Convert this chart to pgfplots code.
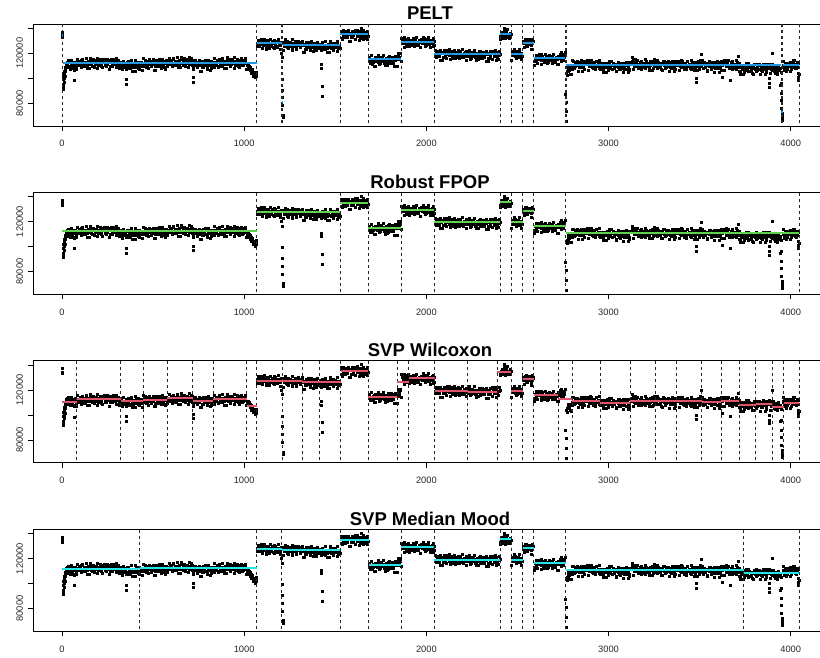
\documentclass[border=0pt]{standalone}
\usepackage{pgfplots}
\pgfplotsset{compat=1.18}
\usepackage{pgfplotstable}
\usepackage{fontspec}
\setmainfont{Liberation Sans}
\definecolor{peltc}{HTML}{2297E6}
\definecolor{fpopc}{HTML}{61D04F}
\definecolor{wilc}{HTML}{DF536B}
\definecolor{moodc}{HTML}{28E2E5}

% series (values in thousands), sampled
\pgfplotstableread[row sep=\\]{
x y\\
1 137.0\\ 2 134.5\\ 3 133.2\\ 5 91.5\\ 6 95.0\\ 7 99.0\\ 8 93.0\\ 9 102.0\\ 10 97.0\\ 11 104.5\\ 12 100.0\\ 13 106.0\\ 14 103.0\\ 15 101.5\\ 16 108.0\\ 17 106.8\\ 18 105.5\\ 19 109.0\\
21 112.2\\ 26 108.5\\ 31 111.4\\ 36 109.9\\ 41 113.8\\ 46 107.4\\ 51 111.9\\ 56 110.7\\ 61 112.9\\ 66 106.6\\ 69 98.5\\ 71 113.2\\ 76 109.3\\
81 112.6\\ 86 115.6\\ 91 110.5\\ 96 111.7\\ 101 114.0\\ 106 109.5\\ 111 115.1\\ 116 111.1\\ 121 113.1\\ 126 109.7\\ 131 116.0\\ 136 112.0\\
141 110.6\\ 146 113.5\\ 151 107.7\\ 156 114.5\\ 161 111.6\\ 166 112.8\\ 171 114.9\\ 176 109.2\\ 181 111.3\\ 186 114.2\\ 191 112.3\\ 196 116.3\\
201 110.3\\ 206 113.3\\ 211 110.9\\ 216 113.8\\ 221 108.6\\ 226 113.0\\ 231 115.4\\ 236 111.8\\ 241 109.9\\ 246 113.6\\ 251 111.5\\ 256 114.6\\
261 107.3\\ 266 112.7\\ 271 113.7\\ 276 110.0\\ 281 112.9\\ 286 111.4\\ 291 115.3\\ 296 108.9\\ 301 113.4\\ 306 112.2\\ 311 114.4\\ 316 108.1\\
321 113.0\\ 326 109.1\\ 331 110.9\\ 336 113.9\\ 341 108.8\\ 346 110.0\\ 351 112.3\\ 352 99.0\\ 354 95.0\\ 356 107.8\\ 361 113.4\\ 366 109.4\\
371 111.4\\ 376 108.0\\ 381 114.3\\ 386 110.3\\ 391 108.9\\ 396 111.8\\ 401 106.0\\ 406 112.8\\ 411 109.9\\ 416 111.1\\ 421 113.2\\ 426 107.5\\
431 109.6\\ 436 112.5\\ 441 110.6\\
446 115.8\\ 451 109.8\\ 456 112.8\\ 461 110.4\\ 466 113.3\\ 471 108.1\\ 476 112.5\\ 481 114.9\\ 486 111.3\\ 491 109.4\\ 496 113.1\\ 501 111.0\\
506 114.1\\ 511 106.8\\ 516 112.2\\ 521 113.2\\ 526 109.5\\ 531 112.4\\ 536 110.9\\ 541 114.8\\ 546 108.4\\ 551 112.9\\ 556 111.7\\ 561 113.9\\
566 107.6\\ 571 114.2\\ 576 110.3\\
581 113.4\\ 586 116.4\\ 591 111.3\\ 596 112.5\\ 601 114.8\\ 606 110.3\\ 611 115.9\\ 616 111.9\\ 621 113.9\\ 626 110.5\\ 631 116.8\\ 636 112.8\\
641 111.4\\ 646 114.3\\ 651 108.5\\ 656 115.3\\ 661 112.4\\ 666 113.6\\ 671 115.7\\ 676 110.0\\ 681 112.1\\ 686 115.0\\ 691 113.1\\ 696 117.1\\
701 111.1\\ 706 114.1\\ 711 111.7\\ 716 114.6\\ 718 100.5\\ 719 97.0\\
721 107.3\\ 726 111.7\\ 731 114.1\\ 736 110.5\\ 741 108.6\\ 746 112.3\\ 751 110.2\\ 756 113.3\\ 761 106.0\\ 766 111.4\\ 771 112.4\\ 776 108.7\\
781 111.6\\ 786 110.1\\ 791 114.0\\ 796 107.6\\ 801 112.1\\ 806 110.9\\ 811 113.1\\ 816 106.8\\ 821 113.4\\ 826 109.5\\
831 112.9\\ 836 115.9\\ 841 110.8\\ 846 112.0\\ 851 114.3\\ 856 109.8\\ 861 115.4\\ 866 111.4\\ 871 113.4\\ 876 110.0\\ 881 116.3\\ 886 112.3\\
891 110.9\\ 896 113.8\\ 901 108.0\\ 906 114.8\\ 911 111.9\\ 916 113.1\\ 921 115.2\\ 926 109.5\\ 931 111.6\\ 936 114.5\\ 941 112.6\\ 946 116.6\\
951 110.6\\ 956 113.6\\ 961 111.2\\ 966 114.1\\ 971 108.9\\ 976 113.3\\ 981 115.7\\ 986 112.1\\ 991 110.2\\ 996 113.9\\ 1001 111.8\\ 1006 114.9\\
1011 107.6\\ 1016 111.0\\ 1021 108.5\\ 1026 109.8\\ 1031 106.2\\ 1036 107.5\\ 1041 104.0\\ 1046 105.2\\ 1051 101.8\\ 1053 103.9\\ 1056 103.6\\
1058 101.0\\ 1061 100.5\\ 1063 104.5\\ 1066 102.9\\
1071 128.2\\ 1076 129.2\\ 1081 125.5\\ 1086 128.4\\ 1091 126.9\\ 1096 130.8\\ 1101 124.4\\ 1106 128.9\\ 1111 127.7\\ 1116 129.9\\ 1121 123.6\\
1126 130.2\\ 1131 126.3\\ 1136 128.1\\ 1141 131.1\\ 1146 126.0\\ 1151 127.2\\ 1156 129.5\\ 1161 125.0\\ 1166 130.6\\ 1171 126.6\\ 1176 128.6\\
1181 125.2\\ 1186 131.5\\ 1191 127.5\\ 1196 126.1\\ 1201 129.0\\
1206 120.0\\ 1207 116.5\\ 1208 99.2\\ 1209 90.6\\ 1210 84.5\\ 1211 78.1\\ 1212 70.6\\ 1213 68.5\\
1216 122.3\\ 1221 129.1\\ 1226 126.2\\ 1231 127.4\\ 1236 129.5\\ 1241 123.8\\ 1246 125.9\\ 1251 128.8\\ 1256 126.9\\ 1261 130.9\\ 1266 124.9\\
1271 127.9\\ 1276 125.5\\ 1281 128.4\\ 1286 123.2\\ 1291 127.6\\ 1296 130.0\\ 1301 126.4\\ 1306 124.5\\ 1311 128.2\\ 1316 126.1\\
1321 128.1\\ 1326 120.8\\ 1331 126.2\\ 1336 127.2\\ 1341 123.5\\ 1346 126.4\\ 1351 124.9\\ 1356 128.8\\ 1361 122.4\\ 1366 126.9\\ 1371 125.7\\
1376 127.9\\ 1381 121.6\\ 1386 128.2\\ 1391 124.3\\ 1396 126.1\\ 1401 129.1\\ 1406 124.0\\ 1411 125.2\\ 1416 127.5\\ 1421 123.0\\ 1423 111.0\\
1424 108.0\\ 1426 128.6\\ 1427 93.8\\ 1428 85.8\\ 1431 124.6\\ 1436 126.6\\ 1441 123.2\\ 1446 129.5\\ 1451 125.5\\ 1456 124.1\\ 1461 127.0\\
1466 121.2\\ 1471 128.0\\ 1476 125.1\\ 1481 126.3\\ 1486 128.4\\ 1491 122.7\\ 1496 124.8\\ 1501 127.7\\ 1506 125.8\\ 1511 129.8\\ 1516 123.8\\
1521 126.8\\ 1526 124.4\\
1531 136.5\\ 1536 131.3\\ 1541 135.7\\ 1546 138.1\\ 1551 134.5\\ 1556 132.6\\ 1561 136.3\\ 1566 134.2\\ 1571 137.3\\ 1576 130.0\\ 1581 135.4\\
1586 136.4\\ 1591 132.7\\ 1596 135.6\\ 1601 134.1\\ 1606 138.0\\ 1611 131.6\\ 1616 136.1\\ 1621 134.9\\ 1626 137.1\\ 1631 130.8\\ 1636 137.4\\
1641 133.5\\ 1643 140.3\\ 1646 135.3\\ 1651 138.3\\ 1656 133.2\\ 1661 134.4\\ 1666 136.7\\ 1671 132.2\\ 1676 137.8\\ 1681 133.8\\
1686 115.2\\ 1691 111.8\\ 1696 118.1\\ 1701 114.1\\ 1706 112.7\\ 1711 115.6\\ 1716 109.8\\ 1721 116.6\\ 1726 113.7\\ 1731 114.9\\ 1736 117.0\\
1741 111.3\\ 1746 113.4\\ 1751 116.3\\ 1756 114.4\\ 1761 118.4\\ 1766 112.4\\ 1771 115.4\\ 1776 113.0\\ 1781 115.9\\ 1786 110.7\\ 1791 115.1\\
1796 117.5\\ 1801 113.9\\ 1806 112.0\\ 1811 115.7\\ 1816 113.6\\ 1821 116.7\\ 1826 109.4\\ 1831 114.8\\ 1836 115.8\\
1841 115.0\\ 1846 117.9\\ 1851 116.4\\ 1856 120.3\\ 1861 113.9\\
1866 130.2\\ 1871 129.0\\ 1876 131.2\\ 1881 124.9\\ 1886 131.5\\ 1891 127.6\\ 1896 129.4\\ 1901 132.4\\ 1906 127.3\\ 1911 128.5\\ 1916 130.8\\
1921 126.3\\ 1926 131.9\\ 1931 127.9\\ 1936 129.9\\ 1941 126.5\\ 1946 132.8\\ 1951 128.8\\ 1956 127.4\\ 1961 130.3\\ 1966 124.5\\ 1971 131.3\\
1976 128.4\\ 1981 129.6\\ 1986 131.7\\ 1991 126.0\\ 1996 128.1\\ 2001 131.0\\ 2006 129.1\\ 2011 133.1\\ 2016 127.1\\ 2021 130.1\\ 2026 127.7\\
2031 130.6\\ 2036 125.4\\ 2041 129.8\\
2046 122.5\\ 2051 118.9\\ 2056 117.0\\ 2061 120.7\\ 2066 118.6\\ 2071 121.7\\ 2076 114.4\\ 2081 119.8\\ 2086 120.8\\ 2091 117.1\\ 2096 120.0\\
2101 118.5\\ 2106 122.4\\ 2111 116.0\\ 2116 120.5\\ 2121 119.3\\ 2126 121.5\\ 2131 115.2\\ 2136 121.8\\ 2141 117.9\\ 2146 119.7\\ 2151 122.7\\
2156 117.6\\ 2161 118.8\\ 2166 121.1\\ 2171 116.6\\ 2176 122.2\\ 2181 118.2\\ 2186 120.2\\ 2191 116.8\\ 2196 123.1\\ 2201 119.1\\ 2206 117.7\\
2211 120.6\\ 2216 114.8\\ 2221 121.6\\
2226 117.9\\ 2231 119.1\\ 2236 121.2\\ 2241 115.5\\ 2246 117.6\\ 2251 120.5\\ 2256 118.6\\ 2261 122.6\\ 2266 116.6\\ 2271 119.6\\ 2276 117.2\\
2281 120.1\\ 2286 114.9\\ 2291 119.3\\ 2296 121.7\\ 2301 118.1\\ 2306 116.2\\ 2311 119.9\\ 2316 117.8\\ 2321 120.9\\ 2326 113.6\\ 2331 119.0\\
2336 120.0\\ 2341 116.3\\ 2346 119.2\\ 2351 117.7\\ 2356 121.6\\ 2361 115.2\\ 2366 119.7\\ 2371 118.5\\ 2376 120.7\\ 2381 114.4\\ 2386 121.0\\
2391 117.1\\ 2396 118.9\\ 2401 121.9\\
2406 133.4\\ 2411 134.6\\ 2416 136.9\\ 2421 132.4\\ 2426 138.0\\ 2428 140.4\\ 2431 134.0\\ 2436 136.0\\ 2441 132.6\\ 2446 138.9\\ 2451 134.9\\
2456 133.5\\ 2461 136.4\\
2466 114.5\\ 2471 121.3\\ 2476 118.4\\ 2481 119.6\\ 2486 121.7\\ 2491 116.0\\ 2496 118.1\\ 2501 121.0\\ 2506 119.1\\ 2511 123.1\\ 2516 117.1\\
2521 120.1\\ 2526 117.7\\
2531 129.9\\ 2536 124.7\\ 2541 129.1\\ 2546 131.5\\ 2551 127.9\\ 2556 126.0\\ 2561 129.7\\ 2566 127.6\\ 2571 130.7\\ 2576 123.4\\ 2581 128.8\\
2586 129.8\\
2591 113.3\\ 2596 116.2\\ 2601 114.7\\ 2606 118.6\\ 2611 112.2\\ 2616 116.7\\ 2621 115.5\\ 2626 117.7\\ 2631 111.4\\ 2636 118.0\\ 2641 114.1\\
2646 115.9\\ 2651 118.9\\ 2656 113.8\\ 2661 115.0\\ 2666 117.3\\ 2671 112.8\\ 2676 118.4\\ 2681 114.4\\ 2686 116.4\\ 2691 113.0\\ 2696 119.3\\
2701 115.3\\ 2706 113.9\\ 2711 116.8\\ 2716 111.0\\ 2721 117.8\\
2726 116.1\\ 2731 117.3\\ 2736 119.4\\ 2741 113.7\\ 2746 115.8\\ 2751 118.7\\ 2756 116.8\\ 2761 120.8\\
2764 87.4\\ 2765 81.2\\ 2766 73.4\\ 2767 65.4\\
2771 105.3\\ 2773 102.5\\ 2776 108.3\\ 2781 105.9\\ 2786 108.8\\ 2791 103.6\\ 2796 108.0\\
2801 114.1\\ 2806 110.5\\ 2811 108.6\\ 2816 112.3\\ 2821 110.2\\ 2826 113.3\\ 2831 106.0\\ 2836 111.4\\ 2841 112.4\\ 2846 108.7\\ 2851 111.6\\
2856 110.1\\ 2861 114.0\\ 2866 107.6\\ 2871 112.1\\ 2876 110.9\\ 2881 113.1\\ 2886 106.8\\ 2891 113.4\\ 2896 109.5\\ 2901 111.3\\ 2906 114.3\\
2911 109.2\\ 2916 110.4\\ 2921 112.7\\ 2926 108.2\\ 2931 113.8\\ 2936 109.8\\ 2941 111.8\\ 2946 108.4\\ 2951 114.7\\
2956 109.3\\ 2961 107.9\\ 2966 110.8\\ 2971 105.0\\ 2976 111.8\\ 2981 108.9\\ 2986 110.1\\ 2991 112.2\\ 2996 106.5\\ 3001 108.6\\ 3006 111.5\\
3011 109.6\\ 3016 113.6\\ 3021 107.6\\ 3026 110.6\\ 3031 108.2\\ 3036 111.1\\ 3041 105.9\\ 3046 110.3\\ 3051 112.7\\ 3056 109.1\\ 3061 107.2\\
3066 110.9\\ 3071 108.8\\ 3076 111.9\\ 3081 104.6\\ 3086 110.0\\ 3091 111.0\\ 3096 107.3\\ 3101 110.2\\ 3106 108.7\\ 3111 112.6\\ 3116 106.2\\
3121 112.3\\ 3126 111.1\\ 3128 116.5\\ 3131 113.3\\ 3136 107.0\\ 3141 113.6\\ 3146 109.7\\ 3151 111.5\\ 3156 114.5\\ 3161 109.4\\ 3166 110.6\\
3171 112.9\\ 3176 108.4\\ 3181 114.0\\ 3186 110.0\\ 3191 112.0\\ 3196 108.6\\ 3201 114.9\\ 3206 110.9\\ 3211 109.5\\ 3216 112.4\\ 3221 106.6\\
3226 113.4\\ 3231 110.5\\ 3236 111.7\\ 3241 113.8\\ 3246 108.1\\ 3251 110.2\\ 3256 113.1\\
3261 110.7\\ 3266 114.7\\ 3271 108.7\\ 3276 111.7\\ 3281 109.3\\ 3286 112.2\\ 3291 107.0\\ 3296 111.4\\ 3301 113.8\\ 3306 110.2\\ 3311 108.3\\
3316 112.0\\ 3321 109.9\\ 3326 113.0\\ 3331 105.7\\ 3336 111.1\\ 3341 112.1\\ 3346 108.4\\ 3351 111.3\\ 3356 109.8\\ 3361 113.7\\ 3366 107.3\\
3371 111.8\\ 3376 110.6\\ 3381 112.8\\ 3386 106.5\\ 3391 113.1\\ 3396 109.2\\ 3401 111.0\\ 3406 114.0\\ 3411 108.9\\ 3416 110.1\\ 3421 112.4\\
3426 107.9\\ 3431 113.5\\ 3436 109.5\\ 3441 111.5\\ 3446 108.1\\ 3451 114.4\\ 3456 110.4\\ 3461 109.0\\ 3466 111.9\\ 3471 106.1\\ 3476 112.9\\
3481 110.0\\ 3482 100.0\\ 3483 96.5\\ 3486 111.2\\ 3491 113.3\\ 3496 107.6\\ 3501 109.7\\ 3506 112.6\\ 3507 119.5\\
3511 110.2\\ 3516 114.2\\ 3521 108.2\\ 3526 111.2\\ 3531 108.8\\ 3536 111.7\\ 3541 106.5\\ 3546 110.9\\ 3551 113.3\\ 3556 109.7\\ 3561 107.8\\
3566 111.5\\ 3571 109.4\\ 3576 112.5\\ 3581 105.2\\ 3586 110.6\\ 3591 111.6\\ 3596 107.9\\ 3601 110.8\\ 3606 109.3\\ 3611 113.2\\ 3616 106.8\\
3621 111.9\\ 3624 101.0\\ 3626 110.7\\ 3631 112.9\\ 3636 106.6\\ 3641 113.2\\ 3646 109.3\\ 3651 111.1\\ 3656 114.1\\ 3661 109.0\\ 3666 110.2\\
3668 98.6\\ 3671 112.5\\ 3676 108.0\\ 3681 113.6\\ 3686 109.6\\ 3691 111.6\\ 3696 108.2\\ 3701 114.5\\ 3706 110.5\\ 3711 109.1\\ 3712 117.5\\
3716 112.0\\
3721 103.2\\ 3726 110.0\\ 3731 107.1\\ 3736 108.3\\ 3741 110.4\\ 3746 104.7\\ 3751 106.8\\ 3756 109.7\\ 3761 107.8\\ 3766 111.8\\ 3771 105.8\\
3776 108.8\\ 3781 106.4\\ 3786 109.3\\ 3791 104.1\\ 3796 108.5\\ 3801 110.9\\ 3806 107.3\\
3811 105.9\\ 3816 109.6\\ 3821 107.5\\ 3826 110.6\\ 3831 103.3\\ 3836 108.7\\ 3841 109.7\\ 3846 106.0\\ 3851 108.9\\ 3856 107.4\\ 3861 111.3\\
3866 104.9\\ 3871 109.4\\ 3876 108.2\\ 3879 100.0\\ 3881 110.4\\ 3882 96.0\\ 3884 93.0\\ 3886 104.1\\ 3891 110.7\\ 3896 106.8\\ 3900 120.0\\
3901 107.6\\ 3906 110.6\\ 3911 105.5\\ 3916 106.7\\ 3921 109.0\\ 3926 104.5\\ 3931 110.1\\ 3936 106.1\\ 3941 108.1\\ 3946 104.7\\
3947 96.0\\ 3948 88.0\\ 3949 82.5\\ 3950 76.0\\ 3951 72.0\\ 3952 69.0\\ 3953 67.0\\ 3954 66.5\\ 3955 70.5\\
3956 113.9\\ 3961 109.9\\ 3966 108.5\\ 3971 111.4\\ 3976 105.6\\ 3981 112.4\\ 3986 109.5\\ 3991 110.7\\ 3996 112.8\\ 4001 107.1\\ 4006 109.2\\
4011 112.1\\ 4016 110.2\\ 4021 114.2\\ 4026 108.2\\ 4031 111.2\\ 4036 108.8\\ 4039 104.0\\ 4041 111.7\\ 4042 101.0\\ 4043 98.6\\ 4045 103.0\\
23 110.7\\ 28 113.2\\ 33 114.1\\ 38 112.5\\ 43 109.6\\ 48 114.5\\ 53 112.0\\ 58 110.1\\ 63 107.7\\ 68 110.8\\ 73 111.8\\ 78 107.1\\
83 111.8\\ 88 111.5\\ 93 112.7\\ 98 112.9\\ 103 108.9\\ 108 114.4\\ 113 110.8\\ 118 110.5\\ 123 109.5\\ 128 113.1\\ 133 112.0\\ 138 107.7\\
143 112.8\\ 148 111.3\\ 153 116.3\\ 158 110.9\\ 163 113.0\\ 168 109.9\\ 173 114.6\\ 178 113.7\\ 183 111.4\\ 188 113.4\\ 193 108.1\\ 198 112.6\\
203 111.7\\ 208 115.1\\ 213 109.7\\ 218 110.6\\ 223 114.5\\ 228 114.9\\ 233 114.2\\ 238 110.3\\ 243 113.8\\ 248 115.4\\ 253 113.6\\ 258 107.3\\
263 110.0\\ 268 115.3\\ 273 112.2\\ 278 114.7\\ 283 115.6\\ 288 114.0\\ 293 111.1\\ 298 116.0\\ 303 113.5\\ 308 111.6\\ 313 109.2\\ 318 112.3\\
323 111.6\\ 328 106.9\\ 333 110.1\\ 338 109.8\\ 343 111.0\\ 348 111.2\\ 353 107.2\\ 358 112.7\\ 363 109.1\\ 368 108.8\\ 373 107.8\\ 378 111.4\\
383 110.3\\ 388 106.0\\ 393 111.1\\ 398 109.6\\ 403 114.6\\ 408 109.2\\ 413 111.3\\ 418 108.2\\ 423 112.9\\ 428 112.0\\ 433 109.7\\ 438 111.7\\ 443 106.4\\
448 112.1\\ 453 111.2\\ 458 114.6\\ 463 109.2\\ 468 110.1\\ 473 114.0\\ 478 114.4\\ 483 113.7\\ 488 109.8\\ 493 113.3\\ 498 114.9\\ 503 113.1\\
508 106.8\\ 513 109.5\\ 518 114.8\\ 523 111.7\\ 528 114.2\\ 533 115.1\\ 538 113.5\\ 543 110.6\\ 548 115.5\\ 553 113.0\\ 558 111.1\\ 563 108.7\\ 568 111.8\\ 573 112.8\\
578 109.4\\ 583 112.6\\ 588 112.3\\ 593 113.5\\ 598 113.7\\ 603 109.7\\ 608 115.2\\ 613 111.6\\ 618 111.3\\ 623 110.3\\ 628 113.9\\ 633 112.8\\
638 108.5\\ 643 113.6\\ 648 112.1\\ 653 117.1\\ 658 111.7\\ 663 113.8\\ 668 110.7\\ 673 115.4\\ 678 114.5\\ 683 112.2\\ 688 114.2\\ 693 108.9\\
698 113.4\\ 703 112.5\\ 708 115.9\\ 713 110.5\\
723 109.3\\ 728 113.2\\ 733 113.6\\ 738 112.9\\ 743 109.0\\ 748 112.5\\ 753 114.1\\ 758 112.3\\ 763 106.0\\ 768 108.7\\ 773 114.0\\ 778 110.9\\
783 113.4\\ 788 114.3\\ 793 112.7\\ 798 109.8\\ 803 114.7\\ 808 112.2\\ 813 110.3\\ 818 107.9\\ 823 111.0\\ 828 112.0\\
833 108.9\\ 838 112.1\\ 843 111.8\\ 848 113.0\\ 853 113.2\\ 858 109.2\\ 863 114.7\\ 868 111.1\\ 873 110.8\\ 878 109.8\\ 883 113.4\\ 888 112.3\\
893 108.0\\ 898 113.1\\ 903 111.6\\ 908 116.6\\ 913 111.2\\ 918 113.3\\ 923 110.2\\ 928 114.9\\ 933 114.0\\ 938 111.7\\ 943 113.7\\ 948 108.4\\
953 112.9\\ 958 112.0\\ 963 115.4\\ 968 110.0\\ 973 110.9\\ 978 114.8\\ 983 115.2\\ 988 114.5\\ 993 110.6\\ 998 114.1\\ 1003 115.7\\ 1008 113.9\\ 1013 107.6\\
1018 110.2\\ 1023 110.9\\ 1028 107.4\\ 1033 108.8\\ 1038 105.6\\ 1043 106.9\\ 1048 103.4\\ 1049 104.6\\ 1054 102.2\\ 1059 103.1\\ 1064 101.7\\ 1068 104.8\\
1073 125.5\\ 1078 130.8\\ 1083 127.7\\ 1088 130.2\\ 1093 131.1\\ 1098 129.5\\ 1103 126.6\\ 1108 131.5\\ 1113 129.0\\ 1118 127.1\\ 1123 124.7\\
1128 127.8\\ 1133 128.8\\ 1138 124.1\\ 1143 127.3\\ 1148 127.0\\ 1153 128.2\\ 1158 128.4\\ 1163 124.4\\ 1168 129.9\\ 1173 126.3\\ 1178 126.0\\
1183 125.0\\ 1188 128.6\\ 1193 127.5\\ 1198 123.2\\ 1203 128.3\\
1218 125.9\\ 1223 130.9\\ 1228 125.5\\ 1233 127.6\\ 1238 124.5\\ 1243 129.2\\ 1248 128.3\\ 1253 126.0\\ 1258 128.0\\ 1263 122.7\\ 1268 127.2\\
1273 126.3\\ 1278 129.7\\ 1283 124.3\\ 1288 125.2\\ 1293 129.1\\ 1298 129.5\\ 1303 128.8\\ 1308 124.9\\ 1313 128.4\\ 1318 130.0\\
1323 127.1\\ 1328 120.8\\ 1333 123.5\\ 1338 128.8\\ 1343 125.7\\ 1348 128.2\\ 1353 129.1\\ 1358 127.5\\ 1363 124.6\\ 1368 129.5\\ 1373 127.0\\
1378 125.1\\ 1383 122.7\\ 1388 125.8\\ 1393 126.8\\ 1398 122.1\\ 1403 125.3\\ 1408 125.0\\ 1413 126.2\\ 1418 126.4\\ 1422 122.4\\ 1429 127.9\\
1433 124.3\\ 1438 124.0\\ 1443 123.0\\ 1448 126.6\\ 1453 125.5\\ 1458 121.2\\ 1463 126.3\\ 1468 124.8\\ 1473 129.8\\ 1478 124.4\\ 1483 126.5\\
1488 123.4\\ 1493 128.1\\ 1498 127.2\\ 1503 124.9\\ 1508 126.9\\ 1513 121.6\\ 1518 126.1\\ 1523 125.2\\
1533 137.8\\ 1538 132.4\\ 1543 133.3\\ 1548 137.2\\ 1553 137.6\\ 1558 136.9\\ 1563 133.0\\ 1568 136.5\\ 1573 138.1\\ 1578 136.3\\ 1583 130.0\\
1588 132.7\\ 1593 138.0\\ 1598 134.9\\ 1603 137.4\\ 1608 138.3\\ 1613 136.7\\ 1618 133.8\\ 1623 138.7\\ 1628 136.2\\ 1633 134.3\\ 1638 131.9\\
1644 135.0\\ 1648 136.0\\ 1653 131.3\\ 1658 134.5\\ 1663 134.2\\ 1668 135.4\\ 1673 135.6\\ 1678 131.6\\
1688 116.5\\ 1693 112.9\\ 1698 112.6\\ 1703 111.6\\ 1708 115.2\\ 1713 114.1\\ 1718 109.8\\ 1723 114.9\\ 1728 113.4\\ 1733 118.4\\ 1738 113.0\\
1743 115.1\\ 1748 112.0\\ 1753 116.7\\ 1758 115.8\\ 1763 113.5\\ 1768 115.5\\ 1773 110.2\\ 1778 114.7\\ 1783 113.8\\ 1788 117.2\\ 1793 111.8\\
1798 112.7\\ 1803 116.6\\ 1808 117.0\\ 1813 116.3\\ 1818 112.4\\ 1823 115.9\\ 1828 117.5\\ 1833 115.7\\ 1838 109.4\\
1843 115.0\\ 1848 120.3\\ 1853 117.2\\ 1858 119.7\\
1863 132.4\\ 1868 130.8\\ 1873 127.9\\ 1878 132.8\\ 1883 130.3\\ 1888 128.4\\ 1893 126.0\\ 1898 129.1\\ 1903 130.1\\ 1908 125.4\\ 1913 128.6\\
1918 128.3\\ 1923 129.5\\ 1928 129.7\\ 1933 125.7\\ 1938 131.2\\ 1943 127.6\\ 1948 127.3\\ 1953 126.3\\ 1958 129.9\\ 1963 128.8\\ 1968 124.5\\
1973 129.6\\ 1978 128.1\\ 1983 133.1\\ 1988 127.7\\ 1993 129.8\\ 1998 126.7\\ 2003 131.4\\ 2008 130.5\\ 2013 128.2\\ 2018 130.2\\ 2023 124.9\\
2028 129.4\\ 2033 128.5\\ 2038 131.9\\ 2043 126.5\\
2048 117.7\\ 2053 121.6\\ 2058 122.0\\ 2063 121.3\\ 2068 117.4\\ 2073 120.9\\ 2078 122.5\\ 2083 120.7\\ 2088 114.4\\ 2093 117.1\\ 2098 122.4\\
2103 119.3\\ 2108 121.8\\ 2113 122.7\\ 2118 121.1\\ 2123 118.2\\ 2128 123.1\\ 2133 120.6\\ 2138 118.7\\ 2143 116.3\\ 2148 119.4\\ 2153 120.4\\
2158 115.7\\ 2163 118.9\\ 2168 118.6\\ 2173 119.8\\ 2178 120.0\\ 2183 116.0\\ 2188 121.5\\ 2193 117.9\\ 2198 117.6\\ 2203 116.6\\ 2208 120.2\\
2213 119.1\\ 2218 114.8\\ 2223 119.9\\
2228 117.6\\ 2233 122.6\\ 2238 117.2\\ 2243 119.3\\ 2248 116.2\\ 2253 120.9\\ 2258 120.0\\ 2263 117.7\\ 2268 119.7\\ 2273 114.4\\ 2278 118.9\\
2283 118.0\\ 2288 121.4\\ 2293 116.0\\ 2298 116.9\\ 2303 120.8\\ 2308 121.2\\ 2313 120.5\\ 2318 116.6\\ 2323 120.1\\ 2328 121.7\\ 2333 119.9\\
2338 113.6\\ 2343 116.3\\ 2348 121.6\\ 2353 118.5\\ 2358 121.0\\ 2363 121.9\\ 2368 120.3\\ 2373 117.4\\ 2378 122.3\\ 2383 119.8\\ 2388 117.9\\
2393 115.5\\ 2398 118.6\\ 2403 119.6\\
2408 131.5\\ 2413 134.7\\ 2418 134.4\\ 2423 135.6\\ 2429 135.8\\ 2433 131.8\\ 2438 137.3\\ 2443 133.7\\ 2448 133.4\\ 2453 132.4\\ 2458 136.0\\ 2463 134.9\\
2468 114.5\\ 2473 119.6\\ 2478 118.1\\ 2483 123.1\\ 2488 117.7\\ 2493 119.8\\ 2498 116.7\\ 2503 121.4\\ 2508 120.5\\ 2513 118.2\\ 2518 120.2\\ 2523 114.9\\
2533 128.7\\ 2538 127.8\\ 2543 131.2\\ 2548 125.8\\ 2553 126.7\\ 2558 130.6\\ 2563 131.0\\ 2568 130.3\\ 2573 126.4\\ 2578 129.9\\ 2583 131.5\\ 2588 129.7\\
2593 110.6\\ 2598 113.3\\ 2603 118.6\\ 2608 115.5\\ 2613 118.0\\ 2618 118.9\\ 2623 117.3\\ 2628 114.4\\ 2633 119.3\\ 2638 116.8\\ 2643 114.9\\
2648 112.5\\ 2653 115.6\\ 2658 116.6\\ 2663 111.9\\ 2668 115.1\\ 2673 114.8\\ 2678 116.0\\ 2683 116.2\\ 2688 112.2\\ 2693 117.7\\ 2698 114.1\\
2703 113.8\\ 2708 112.8\\ 2713 116.4\\ 2718 115.3\\ 2723 111.0\\
2728 117.3\\ 2733 115.8\\ 2738 120.8\\ 2743 115.4\\ 2748 117.5\\ 2753 114.4\\ 2758 119.1\\
2769 104.0\\ 2778 108.7\\ 2783 106.4\\ 2788 108.4\\ 2793 103.1\\ 2798 107.6\\
2803 110.4\\ 2808 113.8\\ 2813 108.4\\ 2818 109.3\\ 2823 113.2\\ 2828 113.6\\ 2833 112.9\\ 2838 109.0\\ 2843 112.5\\ 2848 114.1\\ 2853 112.3\\
2858 106.0\\ 2863 108.7\\ 2868 114.0\\ 2873 110.9\\ 2878 113.4\\ 2883 114.3\\ 2888 112.7\\ 2893 109.8\\ 2898 114.7\\ 2903 112.2\\ 2908 110.3\\
2913 107.9\\ 2918 111.0\\ 2923 112.0\\ 2928 107.3\\ 2933 110.5\\ 2938 110.2\\ 2943 111.4\\ 2948 111.6\\ 2953 107.6\\
2958 111.7\\ 2963 108.1\\ 2968 107.8\\ 2973 106.8\\ 2978 110.4\\ 2983 109.3\\ 2988 105.0\\ 2993 110.1\\ 2998 108.6\\ 3003 113.6\\ 3008 108.2\\
3013 110.3\\ 3018 107.2\\ 3023 111.9\\ 3028 111.0\\ 3033 108.7\\ 3038 110.7\\ 3043 105.4\\ 3048 109.9\\ 3053 109.0\\ 3058 112.4\\ 3063 107.0\\
3068 107.9\\ 3073 111.8\\ 3078 112.2\\ 3083 111.5\\ 3088 107.6\\ 3093 111.1\\ 3098 112.7\\ 3103 110.9\\ 3108 104.6\\ 3113 107.3\\ 3118 112.6\\
3123 111.1\\ 3129 113.6\\ 3133 114.5\\ 3138 112.9\\ 3143 110.0\\ 3148 114.9\\ 3153 112.4\\ 3158 110.5\\ 3163 108.1\\ 3168 111.2\\ 3173 112.2\\
3178 107.5\\ 3183 110.7\\ 3188 110.4\\ 3193 111.6\\ 3198 111.8\\ 3203 107.8\\ 3208 113.3\\ 3213 109.7\\ 3218 109.4\\ 3223 108.4\\ 3228 112.0\\
3233 110.9\\ 3238 106.6\\ 3243 111.7\\ 3248 110.2\\ 3253 115.2\\
3258 109.3\\ 3263 111.4\\ 3268 108.3\\ 3273 113.0\\ 3278 112.1\\ 3283 109.8\\ 3288 111.8\\ 3293 106.5\\ 3298 111.0\\ 3303 110.1\\ 3308 113.5\\
3313 108.1\\ 3318 109.0\\ 3323 112.9\\ 3328 113.3\\ 3333 112.6\\ 3338 108.7\\ 3343 112.2\\ 3348 113.8\\ 3353 112.0\\ 3358 105.7\\ 3363 108.4\\
3368 113.7\\ 3373 110.6\\ 3378 113.1\\ 3383 114.0\\ 3388 112.4\\ 3393 109.5\\ 3398 114.4\\ 3403 111.9\\ 3408 110.0\\ 3413 107.6\\ 3418 110.7\\
3423 111.7\\ 3428 107.0\\ 3433 110.2\\ 3438 109.9\\ 3443 111.1\\ 3448 111.3\\ 3453 107.3\\ 3458 112.8\\ 3463 109.2\\ 3468 108.9\\ 3473 107.9\\
3478 111.5\\ 3484 110.4\\ 3488 106.1\\ 3493 111.2\\ 3498 109.7\\ 3503 114.7\\ 3508 109.3\\
3513 110.9\\ 3518 107.8\\ 3523 112.5\\ 3528 111.6\\ 3533 109.3\\ 3538 111.3\\ 3543 106.0\\ 3548 110.5\\ 3553 109.6\\ 3558 113.0\\ 3563 107.6\\
3568 108.5\\ 3573 112.4\\ 3578 112.8\\ 3583 112.1\\ 3588 108.2\\ 3593 111.7\\ 3598 113.3\\ 3603 111.5\\ 3608 105.2\\ 3613 107.9\\
3618 113.8\\ 3623 110.7\\ 3628 113.2\\ 3633 114.1\\ 3638 112.5\\ 3643 109.6\\ 3648 114.5\\ 3653 112.0\\ 3658 110.1\\ 3663 107.7\\ 3669 110.8\\
3673 111.8\\ 3678 107.1\\ 3683 110.3\\ 3688 110.0\\ 3693 111.2\\ 3698 111.4\\ 3703 107.4\\ 3708 112.9\\ 3713 109.3\\
3718 106.0\\ 3723 105.0\\ 3728 108.6\\ 3733 107.5\\ 3738 103.2\\ 3743 108.3\\ 3748 106.8\\ 3753 111.8\\ 3758 106.4\\ 3763 108.5\\ 3768 105.4\\
3773 110.1\\ 3778 109.2\\ 3783 106.9\\ 3788 108.9\\ 3793 103.6\\ 3798 108.1\\ 3803 107.2\\
3808 111.1\\ 3813 105.7\\ 3818 106.6\\ 3823 110.5\\ 3828 110.9\\ 3833 110.2\\ 3838 106.3\\ 3843 109.8\\ 3848 111.4\\ 3853 109.6\\ 3858 103.3\\
3863 106.0\\ 3868 111.3\\ 3873 108.2\\ 3878 110.7\\ 3883 111.6\\ 3888 110.0\\ 3893 107.1\\
3898 111.0\\ 3903 108.5\\ 3908 106.6\\ 3913 104.2\\ 3918 107.3\\ 3923 108.3\\ 3928 103.6\\ 3933 106.8\\ 3938 106.5\\ 3943 107.7\\ 3944 94.6\\
3958 110.8\\ 3963 106.8\\ 3968 112.3\\ 3973 108.7\\ 3978 108.4\\ 3983 107.4\\ 3988 111.0\\ 3993 109.9\\ 3998 105.6\\ 4003 110.7\\ 4008 109.2\\
4013 114.2\\ 4018 108.8\\ 4023 110.9\\ 4028 107.8\\ 4033 112.5\\ 4038 111.6\\
}\pts

\pgfplotsset{
  panel/.style={
    scale only axis, width=794pt, height=102pt, anchor=north west,
    xmin=-159, xmax=4199, ymin=61.8, ymax=143.4,
    axis line style={line width=0.8pt, black},
    xtick={0,1000,2000,3000,4000}, xticklabels={0,1000,2000,3000,4000},
    ytick={80,100,120,140}, yticklabels={80000,,120000,},
    xtick pos=left, ytick pos=left,
    tick align=outside, major tick length=5pt,
    every tick/.style={black, line width=0.7pt},
    ticklabel style={font=\fontsize{9.3}{10}\selectfont, text=black!85},
    xticklabel style={anchor=base, yshift=-15.7pt},
    yticklabel style={rotate=90, anchor=base, yshift=5pt},
    title style={font=\fontsize{18.5}{20}\selectfont\bfseries, at={(0.5,1)}, anchor=base, yshift=-2pt},
    unbounded coords=jump, clip mode=individual,
  },
  pts/.style={only marks, mark=square*, mark size=1.0pt, mark options={draw=none, fill=black}},
  vl/.style={black!85, line width=0.85pt, dash pattern=on 3pt off 3pt, forget plot},
  seg/.style={line width=2pt, no marks},
}

\begin{document}
\begin{tikzpicture}
\useasboundingbox (0pt,0pt) rectangle (820pt,657pt);

\begin{axis}[panel, at={(33pt,633pt)}, title={PELT}]
\addplot[pts] table[x=x,y=y] {\pts};
\pgfplotsinvokeforeach{5,1070,1207,1212,1528,1682,1862,2044,2404,2465,2528,2589,2763,2768,3947,3955,4045}{\addplot[vl] coordinates {(#1,40)(#1,160)};}
\addplot[seg, peltc] coordinates {(1,134.8)(5,134.8)(5,nan)(5,112.5)(1070,112.5)(1070,nan)(1070,128)(1207,128)(1207,nan)(1207,81)(1212,81)(1212,nan)
(1212,126.9)(1528,126.9)(1528,nan)(1528,135.2)(1682,135.2)(1682,nan)(1682,115.2)(1862,115.2)(1862,nan)(1862,129.3)(2044,129.3)(2044,nan)
(2044,119.4)(2404,119.4)(2404,nan)(2404,135.4)(2465,135.4)(2465,nan)(2465,119.4)(2528,119.4)(2528,nan)(2528,128.4)(2589,128.4)(2589,nan)
(2589,116)(2763,116)(2763,nan)(2763,81)(2768,81)(2768,nan)(2768,110.6)(3947,110.6)(3947,nan)(3947,73)(3955,73)(3955,nan)(3955,110.4)(4045,110.4)};
\end{axis}

\begin{axis}[panel, at={(33pt,464.7pt)}, title={Robust FPOP}]
\addplot[pts] table[x=x,y=y] {\pts};
\pgfplotsinvokeforeach{1070,1528,1682,1862,2044,2404,2465,2528,2589,2764,4045}{\addplot[vl] coordinates {(#1,40)(#1,160)};}
\addplot[seg, fpopc] coordinates {(1,112.8)(1070,112.8)(1070,nan)(1070,127.5)(1528,127.5)(1528,nan)(1528,135.2)(1682,135.2)(1682,nan)
(1682,115)(1862,115)(1862,nan)(1862,129.4)(2044,129.4)(2044,nan)(2044,119.8)(2404,119.8)(2404,nan)(2404,135.5)(2465,135.5)(2465,nan)
(2465,119.8)(2528,119.8)(2528,nan)(2528,128.8)(2589,128.8)(2589,nan)(2589,116.8)(2764,116.8)(2764,nan)(2764,111)(4045,111)};
\end{axis}

\begin{axis}[panel, at={(33pt,296.3pt)}, title={SVP Wilcoxon}]
\addplot[pts] table[x=x,y=y] {\pts};
\pgfplotsinvokeforeach{82,322,446,578,717,830,1015,1070,1209,1320,1415,1529,1680,1840,1903,2045,2226,2388,2467,2529,2589,2725,2800,2955,3120,3257,3370,3511,3617,3716,3807,3897,3961,4045}{\addplot[vl] coordinates {(#1,40)(#1,160)};}
\addplot[seg, wilc] coordinates {(1,110.1)(82,110.1)(82,nan)(82,112.5)(322,112.5)(322,nan)(322,110.9)(446,110.9)(446,nan)(446,112)(578,112)(578,nan)
(578,113.3)(717,113.3)(717,nan)(717,111.2)(830,111.2)(830,nan)(830,112.8)(1015,112.8)(1015,nan)(1015,107.2)(1070,107.2)(1070,nan)
(1070,127.4)(1209,127.4)(1209,nan)(1209,127.1)(1320,127.1)(1320,nan)(1320,126)(1415,126)(1415,nan)(1415,126)(1529,126)(1529,nan)
(1529,134.9)(1680,134.9)(1680,nan)(1680,114.4)(1840,114.4)(1840,nan)(1840,126)(1903,126)(1903,nan)(1903,129.3)(2045,129.3)(2045,nan)
(2045,119.4)(2226,119.4)(2226,nan)(2226,118.6)(2388,118.6)(2388,nan)(2388,134.1)(2467,134.1)(2467,nan)(2467,118.9)(2529,118.9)(2529,nan)
(2529,128.8)(2589,128.8)(2589,nan)(2589,115.7)(2725,115.7)(2725,nan)(2725,113)(2800,113)(2800,nan)(2800,111.2)(2955,111.2)(2955,nan)
(2955,109.8)(3120,109.8)(3120,nan)(3120,111.4)(3257,111.4)(3257,nan)(3257,110.9)(3370,110.9)(3370,nan)(3370,110.9)(3511,110.9)(3511,nan)
(3511,110.4)(3617,110.4)(3617,nan)(3617,111)(3716,111)(3716,nan)(3716,108)(3807,108)(3807,nan)(3807,108.5)(3897,108.5)(3897,nan)
(3897,106.7)(3961,106.7)(3961,nan)(3961,109.8)(4045,109.8)};
\end{axis}

\begin{axis}[panel, at={(33pt,127.7pt)}, title={SVP Median Mood}]
\addplot[pts] table[x=x,y=y] {\pts};
\pgfplotsinvokeforeach{426,1070,1207,1528,1683,1862,2044,2404,2465,2528,2589,2764,3741,4045}{\addplot[vl] coordinates {(#1,40)(#1,160)};}
\addplot[seg, moodc] coordinates {(1,111.8)(426,111.8)(426,nan)(426,112.6)(1070,112.6)(1070,nan)(1070,127.8)(1207,127.8)(1207,nan)
(1207,126.7)(1528,126.7)(1528,nan)(1528,135.2)(1683,135.2)(1683,nan)(1683,115)(1862,115)(1862,nan)(1862,129.4)(2044,129.4)(2044,nan)
(2044,119.2)(2404,119.2)(2404,nan)(2404,135.5)(2465,135.5)(2465,nan)(2465,119)(2528,119)(2528,nan)(2528,128.8)(2589,128.8)(2589,nan)
(2589,116.8)(2764,116.8)(2764,nan)(2764,111)(3741,111)(3741,nan)(3741,108.6)(4045,108.6)};
\end{axis}
\end{tikzpicture}
\end{document}
